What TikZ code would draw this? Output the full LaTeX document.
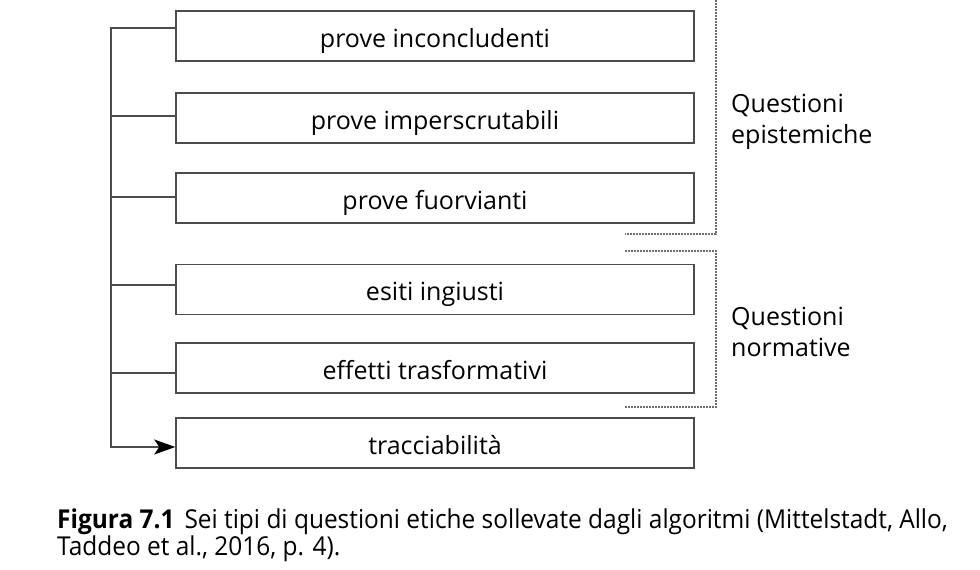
\documentclass[tikz,border=0pt]{standalone}
\usepackage{fontspec}
\setmainfont{Open Sans}
\newfontfamily\capfont[FakeStretch=0.94]{Open Sans}
\usetikzlibrary{arrows.meta}
\definecolor{edge}{HTML}{4C4C4C}
\definecolor{dots}{HTML}{6E6E6E}
\begin{document}
\begin{tikzpicture}[x=1pt,y=-1pt,
  itembox/.style={draw=edge,line width=1.5pt,minimum width=518pt,minimum height=50pt,
    inner sep=0pt,text height=22pt,text depth=0pt,font=\fontsize{25}{30}\selectfont},
  tree/.style={draw=edge,line width=1.5pt,line join=miter},
  groupline/.style={draw=dots,line width=1.1pt,dash pattern=on 1.6pt off 1.4pt},
  grouplabel/.style={anchor=base west,align=left,inner sep=0pt,
    font=\fontsize{25}{31}\selectfont},
  caption/.style={anchor=base west,align=left,inner sep=0pt,
    font=\capfont\fontsize{26}{27}\selectfont}]
\useasboundingbox (0,0) rectangle (980,570);

% the six boxes
\node[itembox] (b1) at (435,36)    {prove inconcludenti};
\node[itembox] (b2) at (435,118)   {prove imperscrutabili};
\node[itembox] (b3) at (435,198)   {prove fuorvianti};
\node[itembox] (b4) at (435,289.5) {esiti ingiusti};
\node[itembox] (b5) at (435,368)   {effetti trasformativi};
\node[itembox] (b6) at (435,443)   {tracciabilità};

% branch points on the vertical trunk
\coordinate (t1) at (111,28);
\coordinate (t2) at (111,116);
\coordinate (t3) at (111,197);
\coordinate (t4) at (111,285);
\coordinate (t5) at (111,373);
\coordinate (t6) at (111,447);

\draw[tree,-{Stealth[length=21pt,width=15pt,inset=5pt,color=black]}]
  (t1 -| b1.west) -- (t1) -- (t6) -- (t6 -| b6.west);
\draw[tree] (t2) -- (t2 -| b2.west);
\draw[tree] (t3) -- (t3 -| b3.west);
\draw[tree] (t4) -- (t4 -| b4.west);
\draw[tree] (t5) -- (t5 -| b5.west);

% dotted group brackets
\coordinate (e1) at (716,0);
\coordinate (e2) at (716,234);
\coordinate (e3) at (625,234);
\coordinate (n1) at (625,251);
\coordinate (n2) at (716,251);
\coordinate (n3) at (716,407);
\coordinate (n4) at (625,407);
\draw[groupline] (e1) -- (e2) -- (e3);
\draw[groupline] (n1) -- (n2) -- (n3) -- (n4);

% the base anchor sits on the last line of each label
\node[grouplabel] (gepi) at (731,143) {Questioni\\epistemiche};
\node[grouplabel] (gnor) at (731,356) {Questioni\\normative};

% caption
\node[caption] (cap) at (57,555)
  {\textbf{Figura 7.1}\hspace{10pt}Sei tipi di questioni etiche sollevate dagli algoritmi (Mittelstadt, Allo,\\
   Taddeo et al., 2016, p. 4).};
\end{tikzpicture}
\end{document}
